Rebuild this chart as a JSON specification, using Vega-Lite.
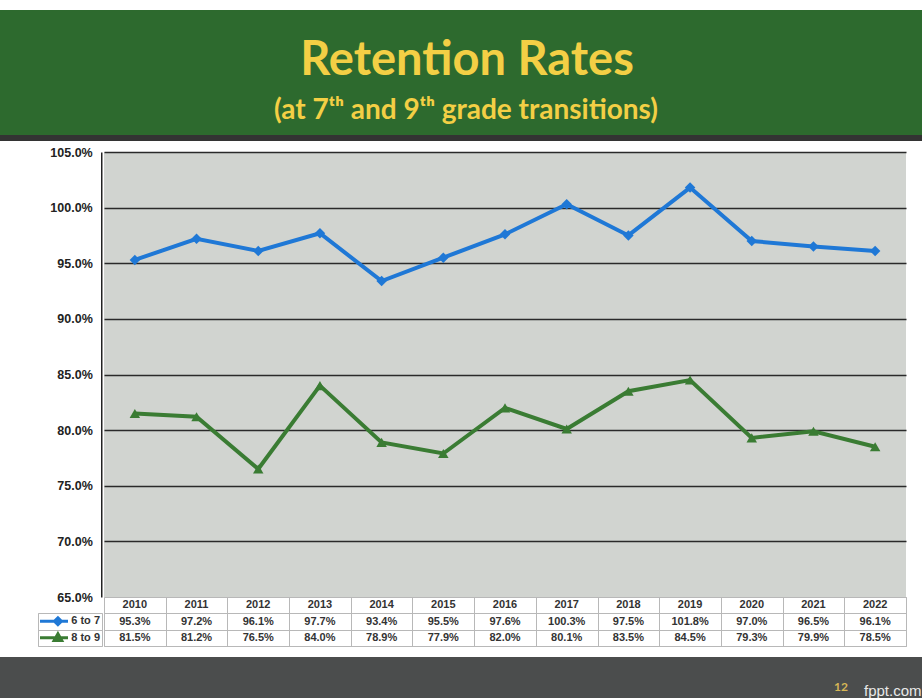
{
  "$schema": "https://vega.github.io/schema/vega-lite/v6.json",
  "background": "#ffffff",
  "padding": {"top": 10, "left": 0, "right": 0, "bottom": 0},
  "autosize": {"type": "pad"},
  "config": {"view": {"stroke": null}, "concat": {"spacing": 0}, "font": "Liberation Sans"},
  "datasets": {
    "rates": [
      {"year": "2010", "series": "6 to 7", "rate": 0.953},
      {"year": "2011", "series": "6 to 7", "rate": 0.972},
      {"year": "2012", "series": "6 to 7", "rate": 0.961},
      {"year": "2013", "series": "6 to 7", "rate": 0.977},
      {"year": "2014", "series": "6 to 7", "rate": 0.934},
      {"year": "2015", "series": "6 to 7", "rate": 0.955},
      {"year": "2016", "series": "6 to 7", "rate": 0.976},
      {"year": "2017", "series": "6 to 7", "rate": 1.003},
      {"year": "2018", "series": "6 to 7", "rate": 0.975},
      {"year": "2019", "series": "6 to 7", "rate": 1.018},
      {"year": "2020", "series": "6 to 7", "rate": 0.970},
      {"year": "2021", "series": "6 to 7", "rate": 0.965},
      {"year": "2022", "series": "6 to 7", "rate": 0.961},
      {"year": "2010", "series": "8 to 9", "rate": 0.815},
      {"year": "2011", "series": "8 to 9", "rate": 0.812},
      {"year": "2012", "series": "8 to 9", "rate": 0.765},
      {"year": "2013", "series": "8 to 9", "rate": 0.840},
      {"year": "2014", "series": "8 to 9", "rate": 0.789},
      {"year": "2015", "series": "8 to 9", "rate": 0.779},
      {"year": "2016", "series": "8 to 9", "rate": 0.820},
      {"year": "2017", "series": "8 to 9", "rate": 0.801},
      {"year": "2018", "series": "8 to 9", "rate": 0.835},
      {"year": "2019", "series": "8 to 9", "rate": 0.845},
      {"year": "2020", "series": "8 to 9", "rate": 0.793},
      {"year": "2021", "series": "8 to 9", "rate": 0.799},
      {"year": "2022", "series": "8 to 9", "rate": 0.785}
    ],
    "series": [{"series": "6 to 7"}, {"series": "8 to 9"}]
  },
  "spacing": 0,
  "bounds": "full",
  "vconcat": [
    {
      "width": 922, "height": 125,
      "view": {"fill": "#2d6a2e", "stroke": null},
      "data": {"values": [{}]},
      "layer": [
        {"mark": {"type": "text", "text": "Retention Rates", "font": "Lato", "fontSize": 47, "fontWeight": "bold", "color": "#f3cf45", "baseline": "middle", "align": "center", "dx": 6, "dy": -12}},
        {"mark": {"type": "text", "text": "(at 7ᵗʰ and 9ᵗʰ grade transitions)", "font": "Lato", "fontSize": 28, "fontWeight": "bold", "color": "#f3cf45", "baseline": "middle", "align": "center", "dx": 5, "dy": 38}}
      ]
    },
    {"width": 922, "height": 6, "view": {"fill": "#333333", "stroke": null}, "data": {"values": []}, "mark": "point"},
    {"width": 922, "height": 5, "data": {"values": []}, "mark": "point"},
    {
      "spacing": 0, "bounds": "full",
      "resolve": {"scale": {"shape": "independent", "color": "independent", "stroke": "independent"}},
      "hconcat": [
        {
          "spacing": 0, "bounds": "flush",
          "vconcat": [
            {
              "width": 102, "height": 445,
              "data": {"values": []},
              "mark": "point",
              "encoding": {
                "y": {
                  "field": "rate", "type": "quantitative",
                  "scale": {"domain": [0.65, 1.05], "nice": false, "zero": false},
                  "axis": {
                    "orient": "left", "offset": -101.25,
                    "values": [0.65, 0.70, 0.75, 0.80, 0.85, 0.90, 0.95, 1.00, 1.05],
                    "format": ".1%", "title": null,
                    "labelFont": "Liberation Sans", "labelFontWeight": "bold", "labelFontSize": 12.5, "labelColor": "#222222",
                    "labelPadding": 9, "ticks": false, "grid": false,
                    "domain": true, "domainColor": "#222222", "domainWidth": 1.5
                  }
                }
              }
            },
            {
              "spacing": 0, "bounds": "flush",
              "hconcat": [
                {"width": 38, "height": 49, "data": {"values": []}, "mark": "point"},
                {
                  "spacing": 0, "bounds": "flush",
                  "vconcat": [
                    {"width": 64, "height": 16, "data": {"values": []}, "mark": "point"},
                    {
                      "width": 64, "height": 33,
                      "view": {"fill": "#ffffff", "stroke": "#b8b8b8"},
                      "data": {"name": "series"},
                      "encoding": {
                        "y": {"field": "series", "type": "nominal", "scale": {"domain": ["6 to 7", "8 to 9"], "paddingInner": 0, "paddingOuter": 0},
                              "axis": {"grid": true, "labels": false, "ticks": false, "domain": false, "title": null, "tickBand": "extent", "gridColor": "#b8b8b8"}}
                      },
                      "layer": [
                        {
                          "transform": [{"filter": "datum.series == '6 to 7'"}],
                          "mark": {"type": "point", "filled": true, "size": 784, "strokeWidth": 3, "opacity": 1, "xOffset": -16,
                                   "color": "#1f78d6", "stroke": "#1f78d6",
                                   "shape": "M-1,0L1,0M0.28,-0.25L0.53,0L0.28,0.25L0.03,0Z"}
                        },
                        {
                          "transform": [{"filter": "datum.series == '8 to 9'"}],
                          "mark": {"type": "point", "filled": true, "size": 784, "strokeWidth": 3, "opacity": 1, "xOffset": -16,
                                   "color": "#3a7c33", "stroke": "#3a7c33",
                                   "shape": "M-1,0L1,0M0.28,-0.28L0.55,0.2L0.01,0.2Z"}
                        },
                        {
                          "mark": {"type": "text", "align": "right", "baseline": "middle", "dx": 30, "font": "Liberation Sans", "fontWeight": "bold", "fontSize": 11, "color": "#333333"},
                          "encoding": {"text": {"field": "series"}}
                        }
                      ]
                    }
                  ]
                }
              ]
            }
          ]
        },
        {
          "spacing": 0, "bounds": "flush",
          "vconcat": [
            {
              "width": 802, "height": 445,
              "view": {"fill": "#d1d4d0", "stroke": null},
              "data": {"name": "rates"},
              "encoding": {
                "x": {"field": "year", "type": "ordinal", "scale": {"type": "point", "padding": 0.5}, "axis": null},
                "y": {
                  "field": "rate", "type": "quantitative",
                  "scale": {"domain": [0.65, 1.05], "nice": false, "zero": false},
                  "axis": {
                    "values": [0.65, 0.70, 0.75, 0.80, 0.85, 0.90, 0.95, 1.00, 1.05],
                    "title": null, "labels": false, "ticks": false, "domain": false,
                    "grid": true, "gridColor": "#2a2a2a", "gridWidth": 1.3,
                    "gridOpacity": {"condition": {"test": "datum.value < 0.66", "value": 0}, "value": 1}
                  }
                },
                "color": {"field": "series", "type": "nominal", "scale": {"domain": ["6 to 7", "8 to 9"], "range": ["#1f78d6", "#3a7c33"]}, "legend": null}
              },
              "layer": [
                {"mark": {"type": "line", "strokeWidth": 4}},
                {
                  "mark": {"type": "point", "filled": true, "size": 110, "opacity": 1},
                  "encoding": {"shape": {"field": "series", "type": "nominal", "scale": {"domain": ["6 to 7", "8 to 9"], "range": ["diamond", "triangle-up"]}, "legend": null}}
                }
              ]
            },
            {
              "width": 802, "height": 49,
              "view": {"fill": "#ffffff", "stroke": "#b8b8b8"},
              "data": {"name": "rates"},
              "encoding": {
                "x": {"field": "year", "type": "ordinal", "scale": {"type": "band", "paddingInner": 0, "paddingOuter": 0},
                      "axis": {"grid": true, "labels": false, "ticks": false, "domain": false, "title": null, "tickBand": "extent", "gridColor": "#b8b8b8"}}
              },
              "layer": [
                {
                  "transform": [{"filter": "datum.series == '6 to 7'"}],
                  "mark": {"type": "text", "baseline": "middle", "font": "Liberation Sans", "fontWeight": "bold", "fontSize": 11, "color": "#333333"},
                  "encoding": {
                    "y": {"datum": "Year", "type": "nominal", "scale": {"domain": ["Year", "6 to 7", "8 to 9"], "paddingInner": 0, "paddingOuter": 0},
                          "axis": {"grid": true, "labels": false, "ticks": false, "domain": false, "title": null, "tickBand": "extent", "gridColor": "#b8b8b8"}},
                    "text": {"field": "year"}
                  }
                },
                {
                  "mark": {"type": "text", "baseline": "middle", "font": "Liberation Sans", "fontWeight": "bold", "fontSize": 11, "color": "#333333"},
                  "encoding": {
                    "y": {"field": "series", "type": "nominal"},
                    "text": {"field": "rate", "type": "quantitative", "format": ".1%"}
                  }
                }
              ]
            }
          ]
        },
        {"width": 18, "height": 494, "data": {"values": []}, "mark": "point"}
      ]
    },
    {"width": 922, "height": 9, "data": {"values": []}, "mark": "point"},
    {
      "width": 922, "height": 43,
      "view": {"fill": "#4b4d4d", "stroke": null},
      "data": {"values": [{}]},
      "layer": [
        {"mark": {"type": "text", "text": "12", "font": "Lato", "fontSize": 12, "fontWeight": "bold", "color": "#d6b656", "baseline": "middle", "align": "center", "dx": 380, "dy": 8}},
        {"mark": {"type": "text", "text": "fppt.com", "font": "Liberation Sans", "fontSize": 15, "color": "#e8e8e8", "baseline": "middle", "align": "left", "dx": 403, "dy": 12}}
      ]
    }
  ]
}
